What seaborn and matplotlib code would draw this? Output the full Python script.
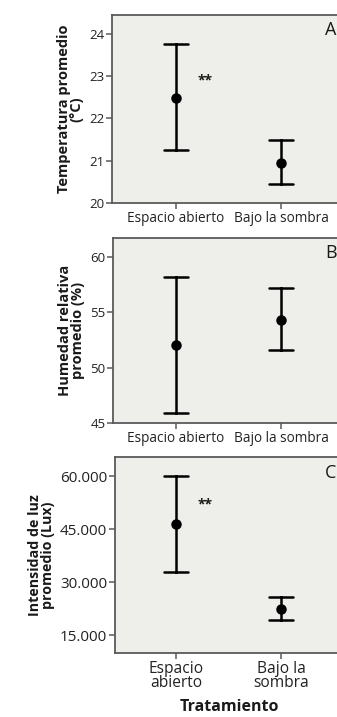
import pandas as pd
import numpy as np
import matplotlib
matplotlib.use("Agg")
import matplotlib.pyplot as plt
import matplotlib.ticker as mticker
import seaborn as sns

## data (lower limit, mean, upper limit)
tratamientos = ["Espacio abierto", "Bajo la sombra"]
temp_low = [21.25, 20.44]
temp_mean = [22.49, 20.95]
temp_high = [23.76, 21.48]
hum_low = [45.87, 51.55]
hum_mean = [52.0, 54.34]
hum_high = [58.15, 57.2]
luz_low = [33000, 19250]
luz_mean = [46400, 22550]
luz_high = [60000, 25950]

sns.set_style("white")
plt.rcParams['font.family'] = ['Open Sans', 'DejaVu Sans']

bg = "#EEEEEA"
spine_col = "#5a5a5a"
ink = "#1a1a1a"
W = 337
H = 717
AX_W = 228


def long_table(low, mean, high):
    rows = []
    for i, t in enumerate(tratamientos):
        for v in (low[i], mean[i], high[i]):
            rows.append({"Tratamiento": t, "valor": v})
    return pd.DataFrame(rows)


def panel(fig, left, bottom, height, low, mean, high, ylabel, yticks, ylim, letter,
          stars=None, fmt=None, xlabels=None, tick_size=9.5, xtick_size=9.8, ylab_size=10.5):
    ax = fig.add_axes([left / W, 1 - bottom / H, AX_W / W, height / H])
    df = long_table(low, mean, high)
    # median of (low, mean, high) is the mean, full range is the interval
    sns.pointplot(data=df, x="Tratamiento", y="valor", order=tratamientos,
                  estimator="median", errorbar=("pi", 100), capsize=0.22,
                  color="black", linestyle="none", markersize=5.5,
                  err_kws={"linewidth": 1.8}, ax=ax)
    ax.set_facecolor(bg)
    x0 = -(176 - left) / 105
    ax.set_xlim(x0, x0 + AX_W / 105)
    ax.set_ylim(*ylim)
    ax.set_yticks(yticks)
    if fmt is not None:
        ax.yaxis.set_major_formatter(mticker.FuncFormatter(fmt))
    ax.set_xticks([0, 1])
    ax.set_xticklabels(xlabels if xlabels else tratamientos)
    ax.set_xlabel("")
    ax.set_ylabel(ylabel, fontsize=ylab_size, fontweight="bold", color=ink, labelpad=4,
                  linespacing=0.85)
    for s in ax.spines.values():
        s.set_color(spine_col)
        s.set_linewidth(1.3)
    ax.tick_params(axis="both", direction="out", length=4, width=1.1, color=spine_col,
                   labelcolor="#222222", pad=1.5, left=True, bottom=True)
    ax.tick_params(axis="y", labelsize=tick_size)
    ax.tick_params(axis="x", labelsize=xtick_size)
    ax.text((325 - left) / AX_W, 0.92, letter, transform=ax.transAxes, fontsize=13,
            color=ink, ha="left", va="center")
    if stars is not None:
        ax.text(stars[0], stars[1], "**", fontsize=10, fontweight="bold", color=ink,
                ha="center", va="center")
    return ax


fig = plt.figure(figsize=(W / 100, H / 100), dpi=100)

panel(fig, 112, 203, 188, temp_low, temp_mean, temp_high,
      "Temperatura promedio\n(°C)", [20, 21, 22, 23, 24], (20, 24.44), "A",
      stars=(0.28, 22.9))

panel(fig, 113, 423, 185, hum_low, hum_mean, hum_high,
      "Humedad relativa\npromedio (%)", [45, 50, 55, 60], (45, 61.7), "B")

axc = panel(fig, 115, 653, 196, luz_low, luz_mean, luz_high,
            "Intensidad de luz\npromedio (Lux)", [15000, 30000, 45000, 60000], (10000, 65500), "C",
            stars=(0.28, 52000),
            fmt=lambda v, p: f"{v:,.0f}".replace(",", "."),
            xlabels=["Espacio\nabierto", "Bajo la\nsombra"],
            tick_size=11, xtick_size=11.2, ylab_size=10.3)
for lab in axc.get_xticklabels():
    lab.set_linespacing(0.85)
axc.set_xlabel("Tratamiento", fontsize=11.5, fontweight="bold", color=ink, labelpad=6)

fig.savefig("out.png", dpi=100, facecolor="white")
